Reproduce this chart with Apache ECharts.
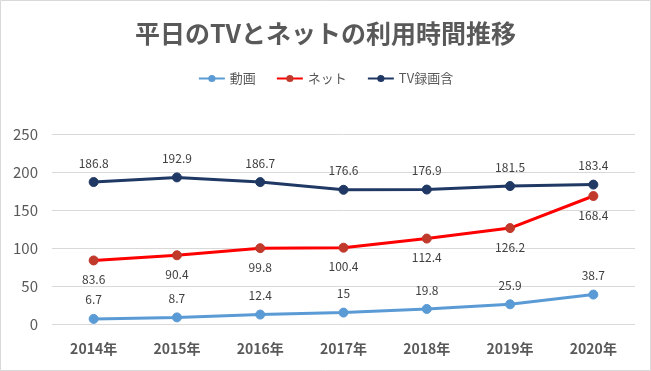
<!DOCTYPE html>
<html>
<head>
<meta charset="utf-8">
<script src="https://cdn.jsdelivr.net/npm/echarts@6/dist/echarts.min.js"></script>
<style>
html,body{margin:0;padding:0;background:#fff;}
#c{width:651px;height:371px;}
</style>
</head>
<body>
<div id="c"></div>
<script>
const categories = ['2014年','2015年','2016年','2017年','2018年','2019年','2020年'];
const douga = [6.7, 8.7, 12.4, 15, 19.8, 25.9, 38.7];
const net = [83.6, 90.4, 99.8, 100.4, 112.4, 126.2, 168.4];
const tv = [186.8, 192.9, 186.7, 176.6, 176.9, 181.5, 183.4];
const seriesNames = ['動画','ネット','TV録画含'];
const titleText = '平日のTVとネットの利用時間推移';

const font = '"Noto Sans CJK JP", "Noto Sans", sans-serif';
const chart = echarts.init(document.getElementById('c'), null, {renderer:'canvas'});
function mk(name, data, lineColor, markColor, pos) {
  return {
    name, type:'line', data,
    symbol:'circle', symbolSize:9,
    lineStyle:{color:lineColor, width:3},
    itemStyle:{color:markColor, borderColor:markColor},
    label:{show:true, position:pos, distance:8, color:'#404040', fontSize:12, fontFamily:font},
    emphasis:{disabled:true},
    animation:false
  };
}
chart.setOption({
  backgroundColor:'#fff',
  animation:false,
  textStyle:{fontFamily:font},
  graphic:[{type:'rect', shape:{x:0.5,y:0.5,width:650,height:370}, style:{fill:'none', stroke:'#d9d9d9', lineWidth:1}, silent:true}],
  title:{text:titleText, left:'center', top:16, textStyle:{fontSize:25, fontWeight:'bold', color:'#595959', fontFamily:font}},
  legend:{data:seriesNames, top:67, left:'center', itemWidth:26, itemHeight:9, itemGap:20,
    textStyle:{color:'#595959', fontSize:13, fontFamily:font}},
  grid:{left:52, right:16, top:134, bottom:47, containLabel:false},
  xAxis:{type:'category', data:categories, boundaryGap:true,
    axisLine:{show:false}, axisTick:{show:false},
    axisLabel:{color:'#595959', fontSize:14, fontWeight:'bold', margin:18, fontFamily:font}},
  yAxis:{type:'value', min:0, max:250, interval:50,
    axisLine:{show:false}, axisTick:{show:false},
    splitLine:{lineStyle:{color:'#d9d9d9', width:1}},
    axisLabel:{color:'#595959', fontSize:15, margin:14, fontFamily:font}},
  series:[
    mk(seriesNames[0], douga, '#5B9BD5', '#5B9BD5', 'top'),
    mk(seriesNames[1], net, '#FF0000', '#C0392B', 'bottom'),
    mk(seriesNames[2], tv, '#203864', '#203864', 'top')
  ]
});
</script>
</body>
</html>
